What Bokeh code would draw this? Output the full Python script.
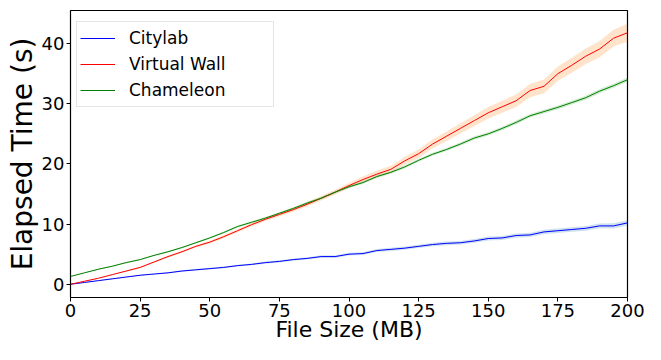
from bokeh.plotting import figure
from bokeh.models import ColumnDataSource, Range1d, Legend, LegendItem, FixedTicker
from bokeh.embed import file_html
from bokeh.resources import INLINE

file_size = [0, 5, 10, 15, 20, 25, 30, 35, 40, 45, 50, 55, 60, 65, 70, 75, 80, 85, 90, 95,
             100, 105, 110, 115, 120, 125, 130, 135, 140, 145, 150, 155, 160, 165, 170, 175,
             180, 185, 190, 195, 200]

citylab = [0.0, 0.3, 0.6, 0.9, 1.2, 1.5, 1.7, 1.9, 2.2, 2.4, 2.6, 2.8, 3.1, 3.3, 3.6, 3.8,
           4.1, 4.3, 4.6, 4.6, 5.0, 5.1, 5.6, 5.8, 6.0, 6.3, 6.6, 6.8, 6.9, 7.2, 7.6, 7.7,
           8.1, 8.2, 8.7, 8.9, 9.1, 9.3, 9.7, 9.7, 10.2]
citylab_err = [0.02, 0.04, 0.05, 0.06, 0.07, 0.08, 0.09, 0.1, 0.11, 0.12, 0.13, 0.14, 0.15,
               0.16, 0.17, 0.18, 0.19, 0.2, 0.21, 0.22, 0.23, 0.24, 0.25, 0.26, 0.27, 0.28,
               0.29, 0.3, 0.31, 0.32, 0.33, 0.34, 0.35, 0.36, 0.37, 0.38, 0.39, 0.4, 0.41,
               0.42, 0.43]

virtual_wall = [0.0, 0.5, 1.0, 1.6, 2.2, 2.8, 3.7, 4.6, 5.4, 6.3, 7.0, 7.9, 8.9, 9.9, 10.8,
                11.6, 12.4, 13.3, 14.3, 15.3, 16.4, 17.4, 18.3, 19.1, 20.5, 21.7, 23.3, 24.6,
                25.9, 27.2, 28.5, 29.5, 30.5, 32.2, 32.9, 35.0, 36.4, 37.9, 39.1, 40.9, 41.8]
virtual_wall_err = [0.02, 0.04, 0.06, 0.08, 0.1, 0.12, 0.14, 0.16, 0.18, 0.2, 0.22, 0.24,
                    0.26, 0.28, 0.3, 0.32, 0.34, 0.36, 0.38, 0.4, 0.45, 0.5, 0.55, 0.6, 0.65,
                    0.7, 0.75, 0.8, 0.85, 0.9, 0.95, 1.0, 1.05, 1.1, 1.15, 1.2, 1.25, 1.3,
                    1.35, 1.4, 1.5]

chameleon = [1.3, 1.9, 2.5, 3.0, 3.6, 4.1, 4.8, 5.4, 6.1, 6.9, 7.7, 8.6, 9.6, 10.3, 11.0,
             11.8, 12.6, 13.5, 14.3, 15.3, 16.2, 16.9, 17.9, 18.6, 19.5, 20.6, 21.6, 22.4,
             23.3, 24.3, 25.0, 25.9, 26.9, 28.0, 28.7, 29.4, 30.2, 31.0, 32.1, 33.0, 34.0]
chameleon_err = [0.05, 0.06, 0.07, 0.08, 0.09, 0.1, 0.1, 0.11, 0.12, 0.13, 0.14, 0.15, 0.16,
                 0.17, 0.18, 0.18, 0.19, 0.2, 0.2, 0.21, 0.22, 0.22, 0.23, 0.24, 0.24, 0.25,
                 0.26, 0.26, 0.27, 0.28, 0.28, 0.29, 0.3, 0.3, 0.31, 0.32, 0.32, 0.33, 0.34,
                 0.34, 0.35]

x_ticks = [0, 25, 50, 75, 100, 125, 150, 175, 200]
y_ticks = [0, 10, 20, 30, 40]

series = [
    ("Citylab", citylab, citylab_err, "#0000ff", "#1f77b4"),
    ("Virtual Wall", virtual_wall, virtual_wall_err, "#ff0000", "#ff7f0e"),
    ("Chameleon", chameleon, chameleon_err, "#008000", "#2ca02c"),
]

FONT = "DejaVu Sans"

p = figure(width=645, height=344, output_backend="svg", toolbar_location=None,
           x_range=Range1d(0, 200), y_range=Range1d(-2.2, 45.5),
           min_border_left=70, min_border_right=18, min_border_top=10, min_border_bottom=20)
p.grid.visible = False
p.outline_line_color = "black"
p.outline_line_width = 1.2
p.background_fill_color = "white"
p.border_fill_color = "white"

items = []
for name, vals, err, lc, fc in series:
    src = ColumnDataSource(dict(
        x=file_size, y=vals,
        lo=[v - e for v, e in zip(vals, err)],
        hi=[v + e for v, e in zip(vals, err)]))
    p.varea(x="x", y1="lo", y2="hi", source=src, fill_color=fc, fill_alpha=0.22)
for name, vals, err, lc, fc in series:
    src = ColumnDataSource(dict(x=file_size, y=vals))
    r = p.line(x="x", y="y", source=src, line_color=lc, line_width=1.0)
    items.append(LegendItem(label=name, renderers=[r]))

p.xaxis.ticker = FixedTicker(ticks=x_ticks)
p.yaxis.ticker = FixedTicker(ticks=y_ticks)
for ax in (p.xaxis[0], p.yaxis[0]):
    ax.axis_line_color = None
    ax.major_tick_in = 0
    ax.major_tick_out = 4
    ax.major_tick_line_color = "black"
    ax.minor_tick_line_color = None
    ax.major_label_text_font = FONT
    ax.major_label_text_font_size = "18px"
    ax.major_label_text_color = "black"
    ax.major_label_standoff = 2
    ax.axis_label_text_font = FONT
    ax.axis_label_text_font_style = "normal"
    ax.axis_label_text_color = "black"

p.yaxis.axis_label = "Elapsed Time (s)"
p.yaxis.axis_label_text_font_size = "28px"
p.yaxis.axis_label_standoff = 0

p.xaxis.axis_label = "File Size (MB)"
p.xaxis.axis_label_text_font_size = "22px"
p.xaxis.axis_label_standoff = -3

legend = Legend(items=items, location=(6, 190),
                label_text_font=FONT, label_text_font_size="17px", label_text_color="black",
                label_standoff=14, glyph_width=35, glyph_height=26, label_height=26,
                label_width=141, spacing=0, padding=3, margin=0,
                border_line_color="#cccccc", border_line_width=1,
                background_fill_color="white", background_fill_alpha=0.8)
p.add_layout(legend)

open("out.html", "w").write(file_html(p, INLINE))
